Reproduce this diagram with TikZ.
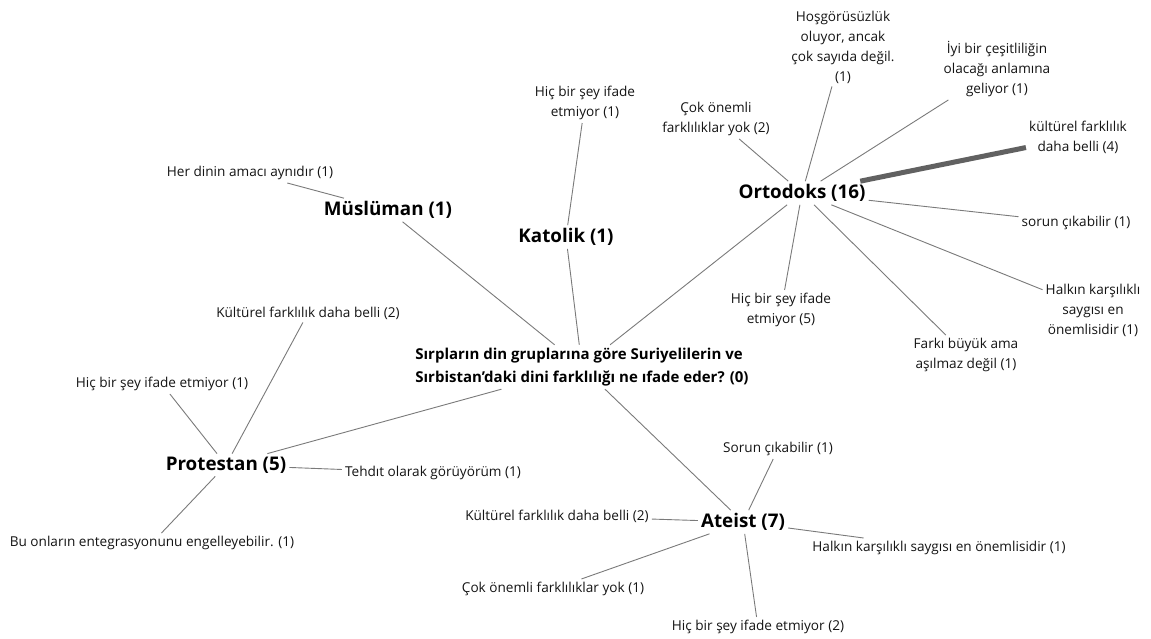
\documentclass[tikz,border=0pt]{standalone}
\usepackage{fontspec}
\setmainfont{Open Sans}
\begin{document}
\begin{tikzpicture}[x=1pt,y=-1pt,
  leaf/.style={font=\fontsize{13.6}{20}\selectfont, align=center, inner sep=3pt, text=black!92},
  grp/.style={font=\fontsize{18.8}{22}\selectfont\bfseries, inner sep=3pt},
  root/.style={font=\fontsize{15}{23}\selectfont\bfseries, align=left, inner sep=3pt},
  link/.style={draw=black!52, line width=0.9pt},
  heavy/.style={draw=black!62, line width=5pt}]
\fill[white] (0,0) rectangle (1151,639);
\useasboundingbox (0,0) rectangle (1151,639);

% central question
\node[root] (q) at (582,367) {Sırpların din gruplarına göre Suriyelilerin ve\\Sırbistan’daki dini farklılığı ne ıfade eder? (0)};

% religious groups
\node[grp] (mus) at (388,210) {Müslüman (1)};
\node[grp] (kat) at (566,237) {Katolik (1)};
\node[grp] (ort) at (802,193) {Ortodoks (16)};
\node[grp] (pro) at (226,465) {Protestan (5)};
\node[grp] (ate) at (743,522) {Ateist (7)};

% Müslüman
\node[leaf] (mus1) at (250,173) {Her dinin amacı aynıdır (1)};
% Katolik
\node[leaf] (kat1) at (585,103) {Hiç bir şey ifade\\etmiyor (1)};
% Ortodoks
\node[leaf] (ort1) at (716,119) {Çok önemli\\farklılıklar yok (2)};
\node[leaf] (ort2) at (843,47) {Hoşgörüsüzlük\\oluyor, ancak\\çok sayıda değil.\\(1)};
\node[leaf] (ort3) at (997,69) {İyi bir çeşitliliğin\\olacağı anlamına\\geliyor (1)};
\node[leaf] (ort4) at (1078,137) {kültürel farklılık\\daha belli (4)};
\node[leaf] (ort5) at (1076,223) {sorun çıkabilir (1)};
\node[leaf] (ort6) at (1093,310) {Halkın karşılıklı\\saygısı en\\önemlisidir (1)};
\node[leaf] (ort7) at (966,355) {Farkı büyük ama\\aşılmaz değil (1)};
\node[leaf] (ort8) at (781,310) {Hiç bir şey ifade\\etmiyor (5)};
% Protestan
\node[leaf] (pro1) at (308,313) {Kültürel farklılık daha belli (2)};
\node[leaf] (pro2) at (162,384) {Hiç bir şey ifade etmiyor (1)};
\node[leaf] (pro3) at (433,473) {Tehdıt olarak görüyörüm (1)};
\node[leaf] (pro4) at (152,543) {Bu onların entegrasyonunu engelleyebilir. (1)};
% Ateist
\node[leaf] (ate1) at (778,449) {Sorun çıkabilir (1)};
\node[leaf] (ate2) at (557,516) {Kültürel farklılık daha belli (2)};
\node[leaf] (ate3) at (939,548) {Halkın karşılıklı saygısı en önemlisidir (1)};
\node[leaf] (ate4) at (553,589) {Çok önemli farklılıklar yok (1)};
\node[leaf] (ate5) at (758,627) {Hiç bir şey ifade etmiyor (2)};

% connectors
\foreach \g in {mus,kat,ort,pro,ate} \draw[link] (q) -- (\g);
\draw[link] (mus) -- (mus1);
\draw[link] (kat) -- (kat1);
\foreach \l in {ort1,ort2,ort3,ort5,ort6,ort7,ort8} \draw[link] (ort) -- (\l);
\draw[heavy] (ort) -- (ort4);
\foreach \l in {pro1,pro2,pro3,pro4} \draw[link] (pro) -- (\l);
\foreach \l in {ate1,ate2,ate3,ate4,ate5} \draw[link] (ate) -- (\l);
\end{tikzpicture}
\end{document}
